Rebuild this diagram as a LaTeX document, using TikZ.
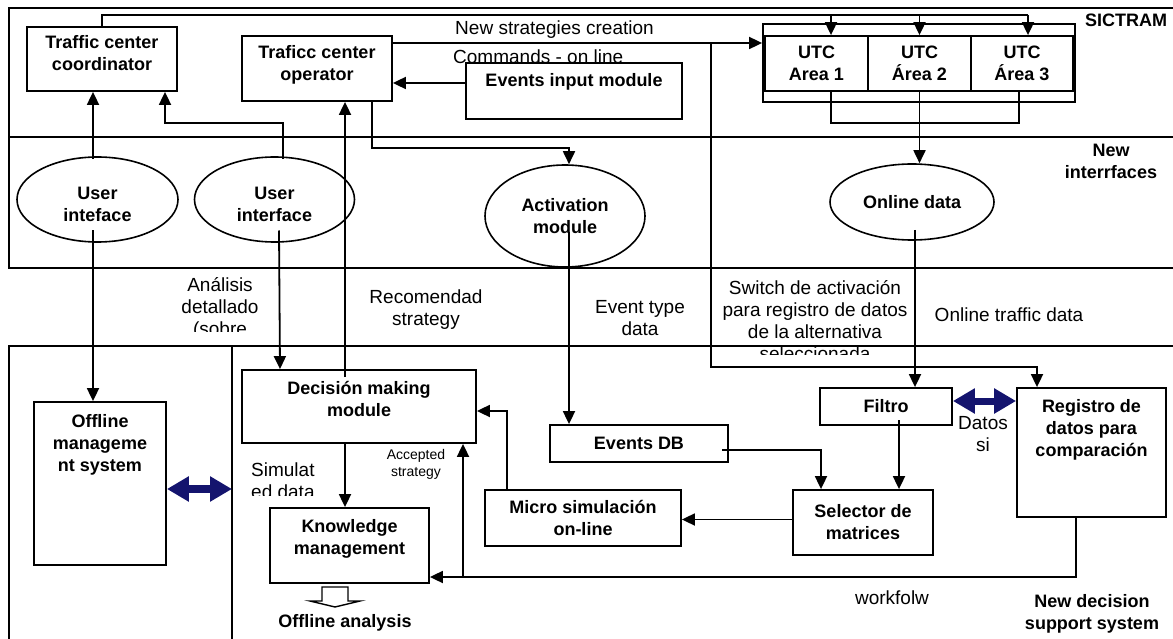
\documentclass[tikz,border=0pt]{standalone}
\usepackage{fontspec}
\setmainfont{Liberation Sans}
\usetikzlibrary{arrows.meta,shapes.geometric,calc}
\definecolor{navyb}{RGB}{20,20,110}
\newcommand\bxt[3]{\raisebox{0pt}[#1pt][#2pt]{\begin{tabular}{@{}c@{}}#3\end{tabular}}}
\begin{document}
\begin{tikzpicture}[x=1pt,y=-1pt,
  bt/.style={font=\bfseries\fontsize{18}{22}\selectfont},
  rt/.style={font=\fontsize{19}{22}\selectfont},
  st/.style={font=\fontsize{14}{17}\selectfont},
  box/.style={draw,line width=1.8pt,fill=white,inner sep=0pt,align=center,bt},
  ell/.style={draw,ellipse,line width=1.6pt,fill=white,inner sep=0pt,align=center,bt},
  band/.style={line width=2.6pt},
  con/.style={line width=1.8pt},
  arr/.style={con,-{Triangle[length=13pt,width=12pt]}},
  dbl/.style={navyb,line width=8pt,{Triangle[length=22pt,width=24pt]}-{Triangle[length=22pt,width=24pt]}},
  lbl/.style={rt,align=center,inner sep=0pt}]
\useasboundingbox (0,0) rectangle (1173,639);
\clip (0,0) rectangle (1173,639);

% bands
\draw[band] (9,8) rectangle (1190,137);
\draw[band] (9,137) rectangle (1190,268);
\draw[band] (9,346) rectangle (1190,660);
\draw[con] (232,346) -- (232,660);

% free labels
\node[lbl] (lnew) at (554.5,30) {New strategies creation};
\node[rt,anchor=west,inner sep=0pt] (lcmd) at (453,57) {Commands - on line};
\node[bt,inner sep=0pt] (lsic) at (1126,20) {SICTRAM};
\node[bt,align=center,inner sep=0pt] (lnif) at (1111,161) {New\\interrfaces};
\node[lbl] (lrec) at (426,310) {Recomendad\\strategy};
\node[lbl] (levt) at (640,318) {Event type\\data};
\node[lbl] (lotd) at (1009,315) {Online traffic data};
\node[st,align=center,inner sep=0pt] (lacc) at (416,464) {Accepted\\strategy};
\node[lbl] (ldat) at (983,434) {Datos\\si};
\node[lbl] (lwf) at (892,598) {workfolw};
\node[bt,align=center,inner sep=0pt] (lnds) at (1092,614) {New decision\\support system};
\node[bt,inner sep=0pt] (loff) at (345,623) {Offline analysis};
\begin{scope}
\clip (140,270) rectangle (300,331);
\node[lbl] (lana) at (220,308) {Análisis\\detallado\\(sobre};
\end{scope}
\begin{scope}
\clip (705,270) rectangle (925,354);
\node[lbl] (lsw) at (815,321) {Switch de activación\\para registro de datos\\de la alternativa\\seleccionada};
\end{scope}
\begin{scope}
\clip (240,455) rectangle (340,495);
\node[rt,align=left,anchor=west,inner sep=0pt] (lsim) at (251,481) {Simulat\\ed data};
\end{scope}

% top band nodes
\node[box,minimum width=150pt] (coord) at (102,59) {\bxt{32.5}{31.5}{Traffic center\\coordinator}};
\node[box,minimum width=150pt] (oper) at (317,68.5) {\bxt{33}{32}{Traficc center\\operator}};
\node[box,minimum width=216pt] (evin) at (574,91) {\bxt{23.5}{32.5}{Events input module}};
\node[draw,line width=1.8pt,minimum width=312pt,minimum height=78pt,inner sep=0pt] (utcg) at (919,63) {};
\node[box,minimum width=103pt,minimum height=55pt] (utc1) at (816.5,63.5) {UTC\\Area 1};
\node[box,minimum width=103pt,minimum height=55pt] (utc2) at (919.5,63.5) {UTC\\Área 2};
\node[box,minimum width=102pt,minimum height=55pt] (utc3) at (1022,63.5) {UTC\\Área 3};

% middle band nodes
\node[ell,minimum width=161pt,minimum height=85pt] (ui1) at (97.5,199.5) {\bxt{25}{4}{User\\inteface}};
\node[ell,minimum width=160pt,minimum height=85pt] (ui2) at (274.5,199.5) {\bxt{25}{4}{User\\interface}};
\node[ell,minimum width=160pt,minimum height=102pt] (act) at (565,216) {Activation\\module};
\node[ell,minimum width=164pt,minimum height=76pt] (onl) at (912,202) {Online data};

% bottom band nodes
\node[box,minimum width=132pt] (offl) at (100,483.5) {\bxt{47}{116}{Offline\\manageme\\nt system}};
\node[box,minimum width=234pt] (deci) at (359,406.5) {\bxt{35}{38}{Decisión making\\module}};
\node[box,minimum width=159pt] (know) at (349.5,545.5) {\bxt{35.5}{39.5}{Knowledge\\management}};
\node[box,minimum width=178pt,minimum height=37pt] (evdb) at (639,443.5) {Events DB};
\node[box,minimum width=196pt,minimum height=56pt] (micro) at (583,518) {Micro simulación\\on-line};
\node[box,minimum width=140pt,minimum height=65pt] (sele) at (863,522.5) {Selector de\\matrices};
\node[box,minimum width=132pt,minimum height=37pt] (filt) at (886,406.5) {Filtro};
\node[box,minimum width=149pt] (regi) at (1091.5,452.5) {\bxt{46}{83}{Registro de\\datos para\\comparación}};

% connectors
\coordinate (bus) at (0,15);
\draw[con] (coord.north) -- (coord.north |- bus) -- ($(utc3.north |- bus)+(6,0)$);
\draw[arr] ($(utc1.north |- bus)+(14.5,0)$) -- ($(utc1.north)+(14.5,0)$);
\draw[arr] (utc2.north |- bus) -- (utc2.north);
\draw[arr] ($(utc3.north |- bus)+(6,0)$) -- ($(utc3.north)+(6,0)$);

\coordinate (sw) at (711,43);
\draw[arr] ($(oper.east)+(0,-25.5)$) -- (utcg.west |- sw);
\draw[arr] ($(evin.west)+(0,-8)$) -- ($(oper.east)+(0,14.5)$);
\coordinate (swc) at (1037,367);
\draw[arr] (sw) |- (swc) -- (swc |- regi.north);

\coordinate (c1) at (165,123);
\draw[arr] ($(ui2.north)+(8.5,3)$) |- (c1) -- (c1 |- coord.south);
\draw[arr] ($(ui1.north)+(-4.5,3)$) -- ($(coord.south)+(-9,0)$);
\draw[arr] ($(ui1.center)+(-4.5,31)$) -- ($(offl.north)+(-7,0)$);
\draw[arr] ($(ui2.center)+(4.5,31)$) -- ($(deci.north)+(-79,0)$);
\draw[arr] ($(deci.north)+(-14,8)$) -- ($(oper.south)+(28,0)$);
\coordinate (c2) at (372,148);
\draw[arr] ($(oper.south)+(55,0)$) -- (c2) -| ($(act.north)+(4,0)$);
\draw[arr] ($(act.center)+(4,16)$) -- ($(evdb.north)+(-70,0)$);
\draw[arr] ($(onl.center)+(3,28)$) -- ($(filt.north)+(29,0)$);
\draw[con] ($(utc1.south)+(14.5,0)$) -- ++(0,31) -| ($(utc3.south)+(-3,0)$);
\draw[arr] (utc2.south) -- (utc2.south |- onl.north);
\draw[arr] ($(evdb.center)+(83,6.5)$) -| ($(sele.north)+(-42,0)$);
\draw[arr] ($(filt.center)+(13,13.5)$) -- ($(sele.north)+(36,0)$);
\draw[arr] ($(sele.west)+(0,-3)$) -- ($(micro.east)+(0,1.5)$);
\draw[arr] ($(micro.north)+(-76,0)$) |- ($(deci.east)+(0,4.5)$);
\draw[arr] ($(deci.south)+(-14,0)$) -- ($(know.north)+(-4.5,0)$);
\coordinate (wf) at (463,577);
\draw[arr] ($(regi.south)+(-15.5,0)$) |- ($(know.east)+(0,31.5)$);
\draw[arr] (wf) -- (wf |- deci.south);
\coordinate (divp) at (232,489);
\draw[dbl] ($(offl.east)+(0,5.5)$) -- (divp);
\draw[dbl,line width=7pt] ($(filt.east)+(0,-5.5)$) -- ($(regi.west)+(0,-51.5)$);

% hollow arrow to offline analysis
\draw[line width=1.4pt,fill=white] (322,587) -- (348,587) -- (348,601) -- (360,601) -- (335,607) -- (310,601) -- (322,601) -- cycle;
\end{tikzpicture}
\end{document}
